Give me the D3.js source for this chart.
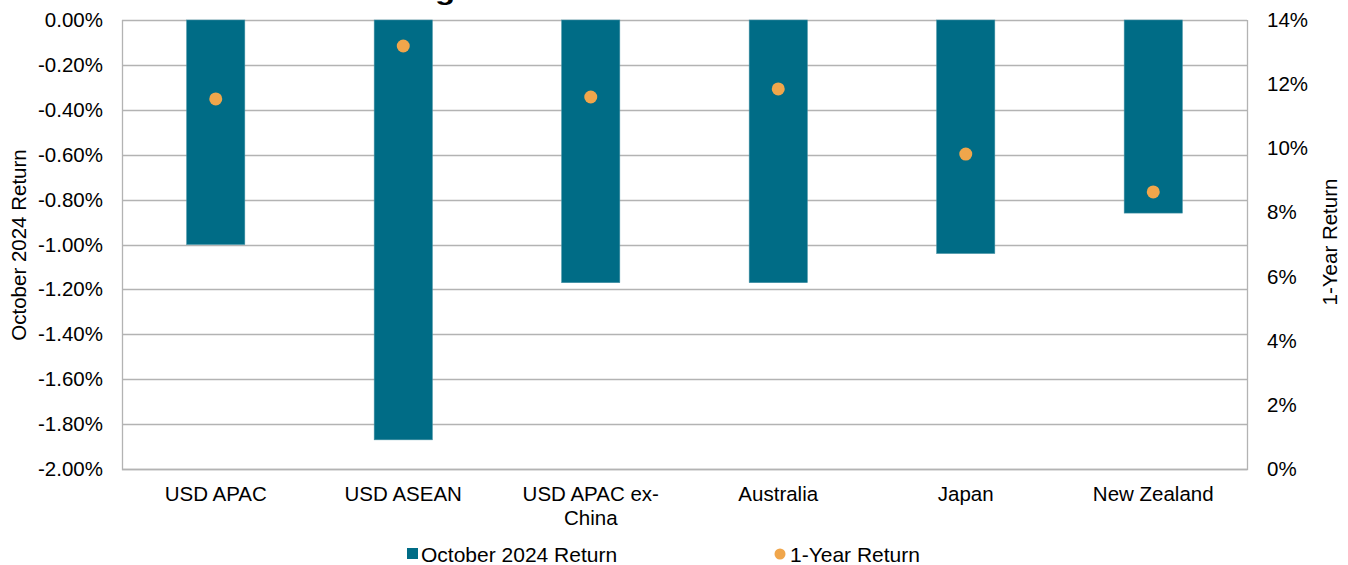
<!DOCTYPE html>
<html>
<head>
<meta charset="utf-8">
<script src="https://cdn.jsdelivr.net/npm/d3@7"></script>
<style>
  body { margin: 0; background: #fff; }
  text { font-family: "Liberation Sans", Arial, sans-serif; fill: #000; }
</style>
</head>
<body>
<script>

var categories = ['USD APAC', 'USD ASEAN', 'USD APAC ex-China', 'Australia', 'Japan', 'New Zealand'];
var octReturn = [-1.00, -1.87, -1.17, -1.17, -1.04, -0.86];   // %, left axis
var yearReturn = [11.54, 13.19, 11.60, 11.85, 9.82, 8.64];     // %, right axis
var leftTicks = [0, -0.2, -0.4, -0.6, -0.8, -1.0, -1.2, -1.4, -1.6, -1.8, -2.0];
var rightTicks = [0, 2, 4, 6, 8, 10, 12, 14];

var width = 1348;
var height = 565;
var plot = {left: 122, right: 1247, top: 20, bottom: 469};

var svg = d3.select('body').append('svg')
  .attr('width', width)
  .attr('height', height);

var x = d3.scaleBand()
  .domain(categories)
  .range([plot.left, plot.right])
  .paddingInner(0.69)
  .paddingOuter(0.345);

var yLeft = d3.scaleLinear().domain([-2, 0]).range([plot.bottom, plot.top]);
var yRight = d3.scaleLinear().domain([0, 14]).range([plot.bottom, plot.top]);

// title, mostly cut off at the top of the picture (as in the original)
svg.append('text')
  .attr('x', 67)
  .attr('y', -0.5)
  .attr('textLength', 1248)
  .attr('lengthAdjust', 'spacingAndGlyphs')
  .style('font-size', '26px')
  .style('font-weight', 'bold')
  .text('Exhibit 5: Absolute Hedge Returns of the FTSE ASEAN and Other Index Markets');

// gridlines
svg.append('g').selectAll('line')
  .data(leftTicks)
  .enter()
  .append('line')
  .attr('x1', plot.left)
  .attr('x2', plot.right)
  .attr('y1', function(d){ return Math.round(yLeft(d)) + 0.5; })
  .attr('y2', function(d){ return Math.round(yLeft(d)) + 0.5; })
  .style('stroke', '#b3b3b3')
  .style('stroke-width', 1.3);

// plot border sides
svg.append('path')
  .attr('d', 'M' + (plot.left + 0.5) + ',' + plot.top + 'V' + (plot.bottom + 0.5) +
    'H' + (plot.right + 0.5) + 'V' + plot.top)
  .style('fill', 'none')
  .style('stroke', '#b3b3b3')
  .style('stroke-width', 1.3);

// bars
svg.append('g').selectAll('rect')
  .data(octReturn)
  .enter()
  .append('rect')
  .attr('x', function(d, i){ return x(categories[i]); })
  .attr('width', x.bandwidth())
  .attr('y', yLeft(0))
  .attr('height', function(d){ return yLeft(d) - yLeft(0); })
  .style('fill', '#006c86')
  .style('stroke', '#3f8ea2')
  .style('stroke-width', 0.6);

// dots
svg.append('g').selectAll('circle')
  .data(yearReturn)
  .enter()
  .append('circle')
  .attr('cx', function(d, i){ return x(categories[i]) + x.bandwidth() / 2; })
  .attr('cy', function(d){ return yRight(d); })
  .attr('r', 6.5)
  .style('fill', '#f0a64b');

// left axis labels
var fmt = d3.format('.2f');
svg.append('g').selectAll('text')
  .data(leftTicks)
  .enter()
  .append('text')
  .attr('x', 103)
  .attr('y', function(d){ return yLeft(d) + 7; })
  .attr('text-anchor', 'end')
  .style('font-size', '20.5px')
  .text(function(d){ return fmt(d === 0 ? 0 : d).replace('\u2212', '-') + '%'; });

// right axis labels
svg.append('g').selectAll('text')
  .data(rightTicks)
  .enter()
  .append('text')
  .attr('x', 1267)
  .attr('y', function(d){ return yRight(d) + 7; })
  .style('font-size', '20.5px')
  .text(function(d){ return d + '%'; });

// category labels (wrapped like the original)
var catLines = {
  'USD APAC ex-China': ['USD APAC ex-', 'China']
};
var cats = svg.append('g').selectAll('text')
  .data(categories)
  .enter()
  .append('text')
  .attr('text-anchor', 'middle')
  .style('font-size', '20.5px');
cats.each(function(d){
  var lines = catLines[d] || [d];
  var cx = x(d) + x.bandwidth() / 2;
  var t = d3.select(this);
  lines.forEach(function(l, i){
    t.append('tspan')
      .attr('x', cx)
      .attr('y', 501 + i * 24)
      .text(l);
  });
});

// axis titles
svg.append('text')
  .attr('transform', 'translate(26,245) rotate(-90)')
  .attr('text-anchor', 'middle')
  .style('font-size', '20.5px')
  .text('October 2024 Return');

svg.append('text')
  .attr('transform', 'translate(1337,242) rotate(-90)')
  .attr('text-anchor', 'middle')
  .style('font-size', '20.5px')
  .text('1-Year Return');

// legend
var legend = svg.append('g');
legend.append('rect')
  .attr('x', 407)
  .attr('y', 548)
  .attr('width', 11)
  .attr('height', 11)
  .style('fill', '#006c86');
legend.append('text')
  .attr('x', 421)
  .attr('y', 562)
  .style('font-size', '21px')
  .text('October 2024 Return');
legend.append('circle')
  .attr('cx', 780)
  .attr('cy', 554)
  .attr('r', 5.5)
  .style('fill', '#f0a64b');
legend.append('text')
  .attr('x', 790)
  .attr('y', 562)
  .style('font-size', '21px')
  .text('1-Year Return');

</script>
</body>
</html>
